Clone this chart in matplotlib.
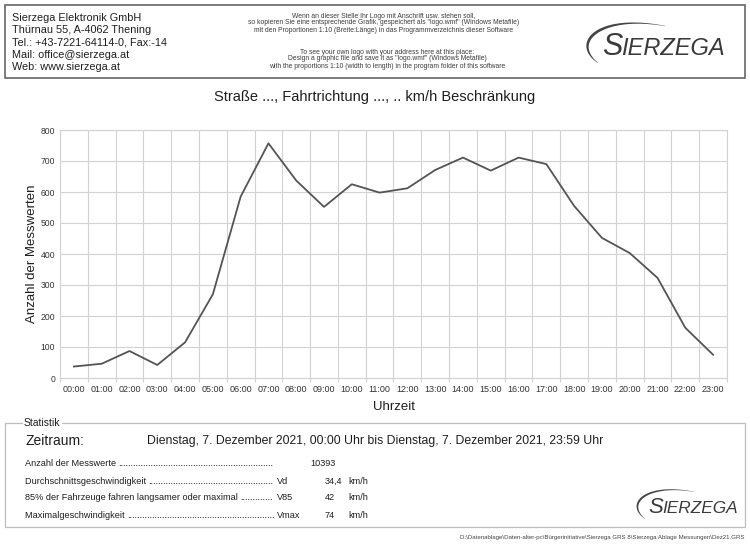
import matplotlib
matplotlib.use('Agg')
import matplotlib.pyplot as plt
from matplotlib.patches import Rectangle, Polygon
import numpy as np

plt.rcParams['font.family'] = ['Liberation Sans', 'DejaVu Sans']

# ---------------- data ----------------
hours = ["00:00", "01:00", "02:00", "03:00", "04:00", "05:00", "06:00", "07:00",
         "08:00", "09:00", "10:00", "11:00", "12:00", "13:00", "14:00", "15:00",
         "16:00", "17:00", "18:00", "19:00", "20:00", "21:00", "22:00", "23:00"]
counts = [37, 46, 87, 42, 115, 270, 585, 757, 637, 552, 625, 598,
          612, 671, 711, 669, 711, 690, 555, 452, 403, 323, 162, 75]
y_ticks = [0, 100, 200, 300, 400, 500, 600, 700, 800]

title = "Straße ..., Fahrtrichtung ..., .. km/h Beschränkung"
x_label = "Uhrzeit"
y_label = "Anzahl der Messwerten"

header_lines = ["Sierzega Elektronik GmbH", "Thürnau 55, A-4062 Thening",
                "Tel.: +43-7221-64114-0, Fax:-14", "Mail: office@sierzega.at",
                "Web: www.sierzega.at"]
header_de = ["Wenn an dieser Stelle Ihr Logo mit Anschrift usw. stehen soll,",
             "so kopieren Sie eine entsprechende Grafik, gespeichert als \"logo.wmf\" (Windows Metafile)",
             "mit den Proportionen 1:10 (Breite:Länge) in das Programmverzeichnis dieser Software"]
header_en = ["To see your own logo with your address here at this place:",
             "Design a graphic file and save it as \"logo.wmf\" (Windows Metafile)",
             "with the proportions 1:10 (width to length) in the program folder of this software"]

stat_title = "Statistik"
period_label = "Zeitraum:"
period_text = "Dienstag, 7. Dezember 2021, 00:00 Uhr bis Dienstag, 7. Dezember 2021, 23:59 Uhr"
row_labels = ["Anzahl der Messwerte", "Durchschnittsgeschwindigkeit",
              "85% der Fahrzeuge fahren langsamer oder maximal", "Maximalgeschwindigkeit"]
row_symbols = ["", "Vd", "V85", "Vmax"]
row_values = ["10393", "34,4", "42", "74"]
row_units = ["", "km/h", "km/h", "km/h"]
footer_path = r"D:\Datenablage\Daten-alter-pc\Bürgerinitiative\Sierzega GRS 8\Sierzega Ablage Messungen\Dez21.GRS"
logo_text = ("S", "IERZEGA")

# ---------------- figure ----------------
W, H = 750, 544
fig = plt.figure(figsize=(7.5, 5.44), dpi=100)
fig.patch.set_facecolor('white')

bg = fig.add_axes([0, 0, 1, 1])
bg.set_xlim(0, W)
bg.set_ylim(H, 0)
bg.axis('off')

TXT = '#1e1e1e'

# header box
bg.add_patch(Rectangle((5, 5), 740, 73, fill=False, ec='#666666', lw=1.2))
for i, line in enumerate(header_lines):
    bg.text(12, 18 + i * 12.3, line, fontsize=7.8, ha='left', va='center', color=TXT)
for i, line in enumerate(header_de):
    bg.text(384, 16 + i * 7, line, fontsize=4.9, ha='center', va='center', color='#3c3c3c')
for i, line in enumerate(header_en):
    bg.text(387, 52 + i * 7, line, fontsize=4.9, ha='center', va='center', color='#3c3c3c')


def draw_logo(x0, yb, s):
    bg.text(x0, yb, logo_text[0], fontsize=22 * s, style='italic', color='#3a3a3a',
            ha='left', va='baseline')
    bg.text(x0 + 19 * s, yb, logo_text[1], fontsize=17 * s, style='italic', color='#3a3a3a',
            ha='left', va='baseline')
    P = np.array([[-4, 8], [-32, -13], [-2, -41], [63, -29]], dtype=float) * s + [x0, yb]
    t = np.linspace(0, 1, 100)[:, None]
    B = ((1 - t) ** 3) * P[0] + 3 * ((1 - t) ** 2) * t * P[1] + 3 * (1 - t) * t ** 2 * P[2] + t ** 3 * P[3]
    D = 3 * ((1 - t) ** 2) * (P[1] - P[0]) + 6 * (1 - t) * t * (P[2] - P[1]) + 3 * t ** 2 * (P[3] - P[2])
    nrm = np.column_stack([-D[:, 1], D[:, 0]]) / np.linalg.norm(D, axis=1)[:, None]
    w = (s * (0.3 + 3.2 * np.sin(np.pi * t[:, 0]) * (1 - 0.5 * t[:, 0])))[:, None]
    outer = B + nrm * w / 2
    inner = B - nrm * w / 2
    bg.add_patch(Polygon(np.vstack([outer, inner[::-1]]), closed=True, fc='#444444', ec='none'))


draw_logo(602, 55, 1.0)

# title
bg.text(375, 97, title, fontsize=10.5, ha='center', va='center', color=TXT)

# ---------------- chart ----------------
L, R, T, B_ = 60, 727, 130, 378
ax = fig.add_axes([L / W, 1 - B_ / H, (R - L) / W, (B_ - T) / H])
x = np.arange(len(counts))
ax.plot(x, counts, color='#545454', lw=1.3, zorder=3)
ax.set_xlim(-0.5, len(counts) - 0.5)
ax.set_ylim(y_ticks[0], y_ticks[-1])
ax.set_xticks(x)
ax.set_xticklabels(hours, fontsize=6.5, color='#333333')
ax.set_xticks(np.arange(len(counts) + 1) - 0.5, minor=True)
ax.set_yticks(y_ticks)
ax.set_yticklabels([str(v) for v in y_ticks], fontsize=6.2, color='#333333')
ax.tick_params(axis='x', which='major', length=0, pad=5)
ax.tick_params(axis='x', which='minor', length=3, color='#d0d0d0', width=0.8)
ax.tick_params(axis='y', which='major', length=0, pad=3.5)
ax.grid(which='minor', axis='x', color='#d2d2d2', lw=0.8)
ax.grid(which='major', axis='y', color='#d2d2d2', lw=0.8)
ax.set_axisbelow(True)
for sp in ax.spines.values():
    sp.set_color('#d2d2d2')
    sp.set_linewidth(0.8)
ax.set_xlabel(x_label, fontsize=9.5, color=TXT, va='center')
ax.xaxis.set_label_coords(0.5, -(407 - B_) / (B_ - T))
ax.set_ylabel(y_label, fontsize=9.5, color=TXT, va='center')
ax.yaxis.set_label_coords(-(L - 32) / (R - L), 0.5)

# ---------------- statistics box ----------------
bg.add_patch(Rectangle((5, 423), 740, 104, fill=False, ec='#bdbdbd', lw=0.9))
bg.text(24, 423, stat_title, fontsize=7.5, ha='left', va='center', color=TXT,
        bbox=dict(fc='white', ec='none', pad=1))
bg.text(25, 441, period_label, fontsize=10, ha='left', va='center', color=TXT)
bg.text(147, 441, period_text, fontsize=8.8, ha='left', va='center', color=TXT)

fig.canvas.draw()
renderer = fig.canvas.get_renderer()
FS = 6.6
probe = bg.text(0, 0, '.' * 20, fontsize=FS)
dot_w = probe.get_window_extent(renderer).width / 20
probe.remove()

row_y = [463, 481, 498, 516]
for lab, sym, val, unit, yy in zip(row_labels, row_symbols, row_values, row_units, row_y):
    t = bg.text(25, yy, lab + ' ', fontsize=FS, ha='left', va='center', color=TXT)
    end = t.get_window_extent(renderer).x1
    stop = 276 if sym == '' else 275
    n = max(int((stop - end) // dot_w), 0)
    bg.text(end, yy, '.' * n, fontsize=FS, ha='left', va='center', color=TXT)
    if sym:
        bg.text(277, yy, sym, fontsize=FS, ha='left', va='center', color=TXT)
    vx = 310 if unit == '' else 325
    bg.text(vx, yy, val, fontsize=FS, ha='left', va='center', color=TXT)
    if unit:
        bg.text(348, yy, unit, fontsize=FS, ha='left', va='center', color=TXT)

draw_logo(648, 513, 0.73)

bg.text(745, 537, footer_path, fontsize=4.4, ha='right', va='center', color='#444444')

fig.savefig('out.png', dpi=100, facecolor='white')
